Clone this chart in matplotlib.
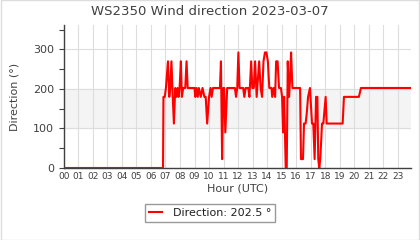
import matplotlib
matplotlib.use("Agg")
import matplotlib.pyplot as plt
from matplotlib.patches import Rectangle

title = "WS2350 Wind direction 2023-03-07"
series_label = "Direction: 202.5 °"
hour_labels = [f"{h:02d}" for h in range(24)]
y_ticks = [0, 100, 200, 300]

hours = [0.0, 6.83, 6.86, 6.95, 7.03, 7.17, 7.26, 7.33, 7.41, 7.50, 7.58, 7.67, 7.75,
         7.83, 7.90, 7.97, 8.06, 8.13, 8.22, 8.36, 8.45, 8.53, 9.00, 9.05, 9.13, 9.22,
         9.30, 9.43, 9.55, 9.68, 9.77, 9.87, 10.00, 10.10, 10.18, 10.27, 10.75, 10.82,
         10.90, 10.98, 11.04, 11.12, 11.25, 11.78, 11.86, 11.94, 12.02, 12.10, 12.35,
         12.43, 12.52, 12.70, 12.78, 12.90, 12.98, 13.08, 13.17, 13.28, 13.45, 13.55,
         13.65, 13.75, 13.85, 13.95, 14.05, 14.15, 14.30, 14.35, 14.45, 14.55, 14.62,
         14.72, 14.82, 14.95, 15.03, 15.10, 15.17, 15.28, 15.35, 15.42, 15.51, 15.58,
         15.65, 15.74, 16.27, 16.33, 16.47, 16.54, 16.65, 16.72, 16.82, 16.95, 17.09,
         17.18, 17.27, 17.37, 17.46, 17.52, 17.59, 17.66, 17.78, 17.87, 18.03, 18.10,
         19.20, 19.29, 20.32, 20.46, 23.92]
direction = [0, 0, 180, 180, 202.5, 270, 180, 202.5, 270, 180, 112.5, 202.5, 180,
             202.5, 180, 202.5, 270, 180, 202.5, 202.5, 270, 202.5, 202.5, 180, 202.5, 180,
             202.5, 180, 202.5, 180, 180, 112.5, 180, 202.5, 180, 202.5, 202.5, 270,
             22.5, 202.5, 202.5, 90, 202.5, 202.5, 180, 202.5, 292.5, 202.5, 202.5,
             180, 202.5, 202.5, 180, 270, 202.5, 202.5, 270, 180, 270, 202.5,
             180, 270, 292.5, 292.5, 270, 202.5, 202.5, 180, 202.5, 180, 270,
             270, 202.5, 202.5, 180, 90, 180, 0, 0, 270, 180, 225,
             292.5, 202.5, 202.5, 22.5, 22.5, 112.5, 112.5, 135, 180, 202.5, 112.5,
             112.5, 22.5, 180, 180, 22.5, 0, 22.5, 112.5, 112.5, 180, 112.5,
             112.5, 180, 180, 202.5, 202.5]

fig = plt.figure(figsize=(4.2, 2.4), dpi=100)
fig.patch.set_facecolor("white")
fig.patches.append(Rectangle((0.0012, 0.002), 0.9976, 0.996, transform=fig.transFigure,
                             fill=False, edgecolor="#dddddd", linewidth=1.0))

ax = fig.add_axes([0.152, 0.30, 0.827, 0.596])
ax.axhspan(100, 200, color="#f4f4f4", zorder=0)
ax.plot(hours, direction, color="#ff0000", linewidth=1.5, zorder=3, label=series_label)

ax.set_xlim(0, 23.92)
ax.set_ylim(0, 362)
ax.set_xticks(range(24))
ax.set_xticklabels(hour_labels, fontsize=6.5, color="#404040")
ax.set_yticks(y_ticks)
ax.set_yticks([50, 150, 250, 350], minor=True)
ax.tick_params(axis="y", labelsize=8, colors="#404040", length=3.5, width=0.8)
ax.tick_params(axis="y", which="minor", length=3.5, width=0.8, color="#404040")
ax.tick_params(axis="x", length=0, pad=3)
ax.grid(True, color="#dddddd", linewidth=0.8, zorder=1)
ax.set_axisbelow(True)
for s in ["top", "right"]:
    ax.spines[s].set_visible(False)
for s in ["left", "bottom"]:
    ax.spines[s].set_color("#404040")
    ax.spines[s].set_linewidth(1.0)

ax.set_xlabel("Hour (UTC)", fontsize=8, color="#404040", labelpad=2)
ax.set_ylabel("Direction (°)", fontsize=8, color="#404040", labelpad=10)

fig.text(0.5, 0.952, title, ha="center", va="center", fontsize=9.5, color="#404040")

leg = fig.legend(loc="center", bbox_to_anchor=(0.5, 0.1125), fontsize=8, frameon=True,
                 fancybox=False, edgecolor="#808080", handlelength=1.2, borderpad=0.35,
                 handletextpad=1.0)
leg.get_frame().set_linewidth(1.0)
for t in leg.get_texts():
    t.set_color("#202020")

fig.savefig("out.png", dpi=100)
